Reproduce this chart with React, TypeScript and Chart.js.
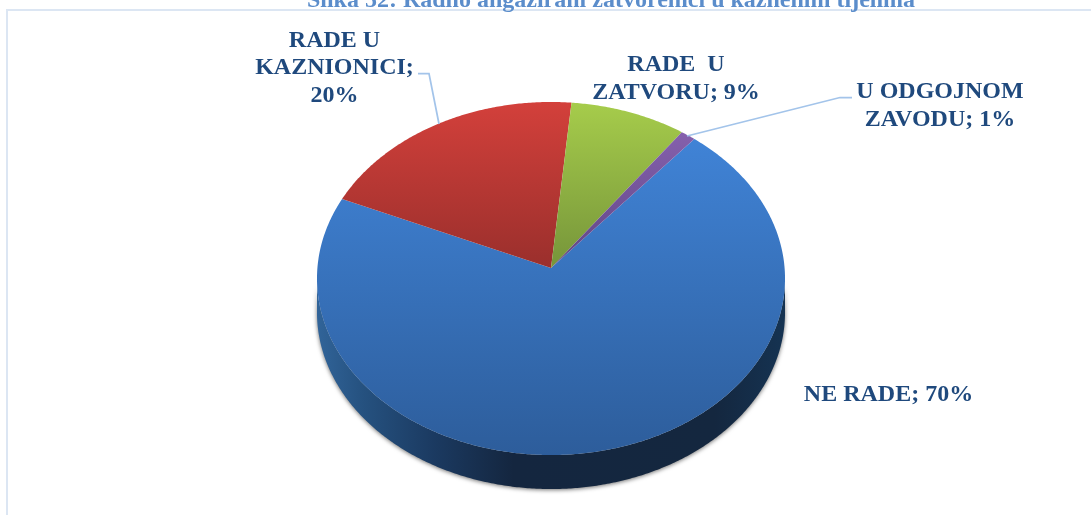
import React, { useEffect, useRef } from "react";
import { Chart, registerables } from "chart.js";

Chart.register(...registerables);

const TITLE = "Slika 52: Radno angažirani zatvorenici u kaznenim tijelima";
const categories = ["NE RADE", "RADE U KAZNIONICI", "RADE U ZATVORU", "U ODGOJNOM ZAVODU"];
const values = [70.5, 19.9, 8.5, 1.1];
const labelLines = [
  ["NE RADE; 70%"],
  ["RADE U", "KAZNIONICI;", "20%"],
  ["RADE  U", "ZATVORU; 9%"],
  ["U ODGOJNOM", "ZAVODU; 1%"],
];

const sliceTop = ["#4083d6", "#d3403b", "#a6cc4b", "#8560ad"];
const sliceBottom = ["#2d5d9b", "#9a2f2c", "#76953a", "#5f4684"];

const WIDTH = 1091;
const HEIGHT = 515;
const K = -0.0595;
const SX = 233.6 / 234;
const SY = 175.9 / 234;
const DEPTH = 34;
const labelAnchors = [
  { x: 888.5, y: 400.5 },
  { x: 334.5, y: 46.5 },
  { x: 676, y: 71 },
  { x: 940, y: 98 },
];
const LINE_H = 27.6;

function project(el: any, angle: number, r = 1) {
  const u = r * Math.cos(angle);
  const v = r * Math.sin(angle);
  const w = 1 + K * v;
  return {
    x: el.x + (el.outerRadius * SX * u) / w,
    y: el.y + (el.outerRadius * SY * v) / w,
  };
}

function rimSamples(el: any) {
  const pts: { angle: number }[] = [];
  const step = Math.PI / 360;
  for (let a = el.startAngle; a < el.endAngle; a += step) pts.push({ angle: a });
  pts.push({ angle: el.endAngle });
  return pts;
}

const perspectivePie = {
  id: "perspectivePie",
  beforeDraw(chart: any) {
    const { ctx } = chart;
    ctx.save();
    ctx.fillStyle = "#ffffff";
    ctx.fillRect(0, 0, WIDTH, HEIGHT);
    ctx.fillStyle = "#dce6f3";
    ctx.fillRect(6, 9, WIDTH - 6, 2);
    ctx.fillRect(6, 9, 2, HEIGHT - 9);
    ctx.restore();
  },
  beforeDatasetDraw(chart: any) {
    const { ctx } = chart;
    const arcs = chart.getDatasetMeta(0).data;

    // side wall
    arcs.forEach((el: any) => {
      const pts = rimSamples(el).filter((p) => Math.sin(p.angle) >= -K);
      if (pts.length < 2) return;
      const top = pts.map((p) => project(el, p.angle));
      ctx.save();
      const grad = ctx.createLinearGradient(317, 0, 785, 0);
      grad.addColorStop(0, "#316499");
      grad.addColorStop(0.1, "#25517f");
      grad.addColorStop(0.25, "#1b3a61");
      grad.addColorStop(0.42, "#14263f");
      grad.addColorStop(0.85, "#14273f");
      grad.addColorStop(1, "#153352");
      ctx.shadowColor = "rgba(0,0,0,0.55)";
      ctx.shadowBlur = 4;
      ctx.shadowOffsetY = 1;
      ctx.fillStyle = grad;
      ctx.beginPath();
      top.forEach((p, i) => (i ? ctx.lineTo(p.x, p.y) : ctx.moveTo(p.x, p.y)));
      for (let i = top.length - 1; i >= 0; i--) ctx.lineTo(top[i].x, top[i].y + DEPTH);
      ctx.closePath();
      ctx.fill();
      ctx.restore();
    });

    // top face
    arcs.forEach((el: any, i: number) => {
      const rim = rimSamples(el).map((p) => project(el, p.angle));
      const ys = rim.map((p) => p.y).concat(el.y);
      const grad = ctx.createLinearGradient(0, Math.min(...ys), 0, Math.max(...ys));
      grad.addColorStop(0, sliceTop[i]);
      grad.addColorStop(1, sliceBottom[i]);
      ctx.save();
      ctx.fillStyle = grad;
      ctx.beginPath();
      ctx.moveTo(el.x, el.y);
      rim.forEach((p) => ctx.lineTo(p.x, p.y));
      ctx.closePath();
      ctx.fill();
      ctx.restore();
    });
    return false;
  },
  afterDraw(chart: any) {
    const { ctx } = chart;
    ctx.save();
    ctx.strokeStyle = "#a3c4ea";
    ctx.lineWidth = 1.75;
    ctx.beginPath();
    ctx.moveTo(418, 73.5);
    ctx.lineTo(429, 73.5);
    ctx.lineTo(439, 124);
    ctx.moveTo(852, 97.5);
    ctx.lineTo(840, 97.5);
    ctx.lineTo(687, 136);
    ctx.stroke();

    ctx.textAlign = "center";
    ctx.textBaseline = "alphabetic";
    ctx.font = 'bold 24px "Liberation Serif"';
    ctx.fillStyle = "#5b8dcb";
    ctx.fillText(TITLE, 611, 7);

    ctx.font = 'bold 24px "Liberation Serif"';
    ctx.fillStyle = "#1f497d";
    labelLines.forEach((lines, i) => {
      lines.forEach((line, j) => {
        ctx.fillText(line, labelAnchors[i].x, labelAnchors[i].y + j * LINE_H);
      });
    });
    ctx.restore();
  },
};

export default function App() {
  const ref = useRef<HTMLCanvasElement>(null);
  useEffect(() => {
    const chart = new Chart(ref.current!, {
      type: "pie",
      data: {
        labels: categories,
        datasets: [{ data: values, backgroundColor: sliceTop, borderWidth: 0 }],
      },
      options: {
        animation: false,
        responsive: false,
        rotation: 39.9,
        layout: { padding: { left: 317, right: 306, top: 34, bottom: 13 } },
        plugins: {
          legend: { display: false },
          tooltip: { enabled: false },
          title: { display: false, text: TITLE },
        },
      },
      plugins: [perspectivePie],
    } as any);
    return () => chart.destroy();
  }, []);
  return (
    <div style={{ position: "fixed", left: 0, top: 0, width: WIDTH, height: HEIGHT, overflow: "hidden" }}>
      <canvas ref={ref} width={WIDTH} height={HEIGHT} style={{ display: "block" }} />
    </div>
  );
}
